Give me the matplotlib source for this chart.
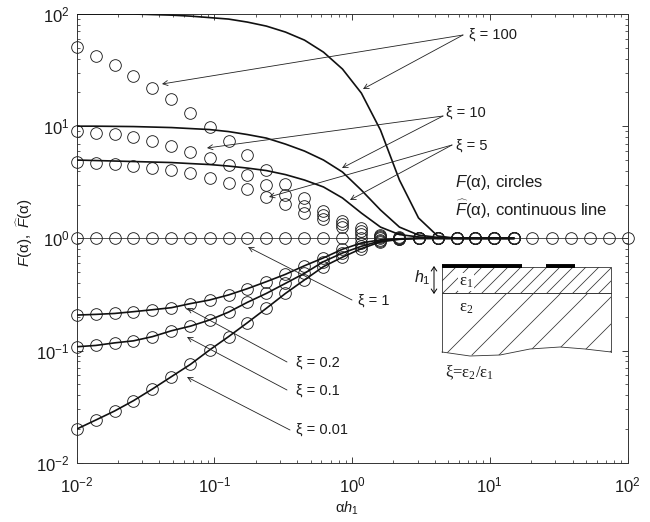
"""Scattering functions F and F-hat against alpha*h1 for several permittivity ratios."""

import matplotlib

matplotlib.use("Agg")

import matplotlib.pyplot as plt
from matplotlib.patches import Polygon

plt.rcParams["font.family"] = ["Liberation Sans", "DejaVu Sans"]
plt.rcParams["mathtext.fontset"] = "custom"
plt.rcParams["mathtext.rm"] = "Liberation Sans"
plt.rcParams["mathtext.it"] = "Liberation Sans:italic"
plt.rcParams["mathtext.bf"] = "Liberation Sans:bold"

INK = "#1c1c1c"

alpha_h = [
    0.01, 0.0138, 0.0189, 0.0259, 0.0356, 0.0489, 0.0672, 0.0924, 0.127, 0.174,
    0.239, 0.329, 0.452, 0.621, 0.853, 1.17, 1.61, 2.21, 3.04, 4.18,
    5.74, 7.88, 10.8, 14.9, 20.4, 28.1, 38.6, 53.0, 72.8, 100.0,
]

# circles, F(alpha); all but xi = 1 stop at alpha*h1 = 14.9
circ_100 = [51, 41.9, 34.8, 27.9, 22, 17.3, 13.2, 9.8, 7.4, 5.55, 4.07, 3.03,
            2.27, 1.77, 1.44, 1.23, 1.07, 1.02, 1, 1, 1, 1, 1, 1]
circ_10 = [9.02, 8.72, 8.54, 8.09, 7.45, 6.72, 5.94, 5.21, 4.48, 3.7, 2.99, 2.43,
           1.94, 1.61, 1.33, 1.16, 1.04, 1.01, 1, 1, 1, 1, 1, 1]
circ_5 = [4.84, 4.71, 4.61, 4.45, 4.25, 4.1, 3.8, 3.48, 3.14, 2.74, 2.35, 2.02,
          1.69, 1.48, 1.25, 1.09, 1.03, 1.01, 1, 1, 1, 1, 1, 1]
circ_1 = [1] * 30
circ_02 = [0.207, 0.21, 0.214, 0.222, 0.231, 0.241, 0.262, 0.282, 0.313, 0.356, 0.411, 0.478,
           0.57, 0.67, 0.8, 0.91, 0.97, 0.99, 1, 1, 1, 1, 1, 1]
circ_01 = [0.108, 0.111, 0.117, 0.122, 0.133, 0.15, 0.165, 0.187, 0.22, 0.269, 0.323, 0.397,
           0.488, 0.62, 0.74, 0.85, 0.95, 0.99, 1, 1, 1, 1, 1, 1]
circ_001 = [0.0199, 0.024, 0.0289, 0.0357, 0.0454, 0.0585, 0.0753, 0.101, 0.133, 0.177, 0.238, 0.323,
            0.426, 0.56, 0.68, 0.81, 0.93, 0.98, 1, 1, 1, 1, 1, 1]

# continuous lines, F-hat(alpha)
line_100 = [100, 100, 100, 100, 98.8, 97.7, 95.7, 92.9, 90.1, 84.7, 78, 69,
            58.5, 45.7, 32.3, 19.7, 9.23, 3.31, 1.52, 1.05, 1, 1, 1, 1]
line_10 = [10, 10, 9.96, 9.92, 9.82, 9.72, 9.52, 9.33, 8.95, 8.42, 7.83, 6.92,
           6.0, 4.99, 3.9, 2.69, 1.79, 1.26, 1.07, 1.02, 1, 1, 1, 1]
line_5 = [4.99, 4.94, 4.89, 4.84, 4.79, 4.74, 4.64, 4.55, 4.41, 4.23, 4.02, 3.7,
          3.31, 2.87, 2.29, 1.68, 1.26, 1.08, 1.03, 1, 1, 1, 1, 1]

tick_vals = [0.01, 0.1, 1, 10, 100]
tick_text = [r"$\mathregular{10^{-2}}$", r"$\mathregular{10^{-1}}$", r"$\mathregular{10^{0}}$",
             r"$\mathregular{10^{1}}$", r"$\mathregular{10^{2}}$"]

fig = plt.figure(figsize=(6.5, 5.22), dpi=100)
ax = fig.add_axes([76.5 / 650, 59.3 / 522, 551 / 650, 448.7 / 522])

for vals in (circ_100, circ_10, circ_5, circ_02, circ_01, circ_001, circ_1):
    ax.plot(alpha_h[: len(vals)], vals, ls="none", marker="o", ms=8.4, mfc="none",
            mec="#222222", mew=0.65, clip_on=False, zorder=3)
ax.plot(alpha_h, circ_1, color="#333333", lw=0.6, zorder=2)
for vals in (line_100, line_10, line_5, circ_02, circ_01, circ_001):
    ax.plot(alpha_h[: len(vals)], vals, color="#111111", lw=1.2, zorder=4)

ax.set_xscale("log")
ax.set_yscale("log")
ax.set_xlim(0.01, 100)
ax.set_ylim(0.01, 100)
ax.set_xticks(tick_vals)
ax.set_xticklabels(tick_text)
ax.set_yticks(tick_vals)
ax.set_yticklabels(tick_text)
ax.tick_params(which="major", direction="in", length=4.5, width=0.6, top=True, right=True,
               labelsize=12, colors=INK)
ax.tick_params(axis="x", which="major", pad=9)
ax.tick_params(axis="y", which="major", pad=5)
ax.tick_params(which="minor", direction="in", length=2.5, width=0.5, top=True, right=True, colors=INK)
for spine in ax.spines.values():
    spine.set_linewidth(0.7)
    spine.set_color("#333333")

# overlay in image pixels for the callouts and the little sketch
ov = fig.add_axes([0, 0, 1, 1], facecolor="none")
ov.set_xlim(0, 650)
ov.set_ylim(522, 0)
ov.axis("off")

labels = [
    ("ξ = 100", 469, 35),
    ("ξ = 10", 446, 113),
    ("ξ = 5", 456, 146),
    ("ξ = 1", 358, 301),
    ("ξ = 0.2", 296, 363),
    ("ξ = 0.1", 296, 391),
    ("ξ = 0.01", 296, 430),
]
for txt, tx, ty in labels:
    ov.text(tx, ty, txt, fontsize=10.5, color=INK, va="center", ha="left", zorder=6)

arrows = [
    (463, 35, 162, 84), (463, 35, 363, 89),
    (443, 116, 207, 148), (443, 116, 342, 168),
    (452, 145, 269, 197), (452, 145, 350, 200),
    (352, 300, 248, 247),
    (287, 362, 187, 308),
    (287, 390, 187, 337),
    (290, 430, 187, 377),
]
for x0, y0, x1, y1 in arrows:
    ov.annotate("", xy=(x1, y1), xytext=(x0, y0), zorder=5,
                arrowprops=dict(arrowstyle="->,head_length=0.35,head_width=0.18", color="#222222",
                                lw=0.6, shrinkA=0, shrinkB=0))

ov.text(455, 182, r"$F(\mathregular{\alpha})$, circles", fontsize=12, color=INK, va="center")
ov.text(455, 209, r"$\widehat{F}(\mathregular{\alpha})$, continuous line", fontsize=12, color=INK,
        va="center")

# layered-medium sketch
top_clip = Polygon([(442, 267), (611, 267), (611, 293), (442, 293)], closed=True, transform=ov.transData)
bot_clip = Polygon([(442, 293), (611, 293), (611, 352), (585, 349), (560, 347), (530, 349),
                    (500, 355), (470, 356), (442, 352)], closed=True, transform=ov.transData)
for k in range(17):
    x0 = 430 + 13 * k
    ln, = ov.plot([x0, x0 + 26], [293, 267], color="#333333", lw=0.55)
    ln.set_clip_path(top_clip)
for k in range(10):
    x0 = 445 + 27 * k
    ln, = ov.plot([x0, x0 + 62], [355, 293], color="#333333", lw=0.55)
    ln.set_clip_path(bot_clip)
ov.plot([442, 442, 611, 611], [352, 267, 267, 352], color="#333333", lw=0.6)
ov.plot([442, 611], [293, 293], color="#333333", lw=0.7)
ov.plot([442, 470, 500, 530, 560, 585, 611], [352, 356, 355, 349, 347, 349, 352], color="#333333", lw=0.6)
ov.plot([442, 522], [265.5, 265.5], color="black", lw=2.8, solid_capstyle="butt")
ov.plot([546, 575], [265.5, 265.5], color="black", lw=2.8, solid_capstyle="butt")
ov.annotate("", xy=(434, 266), xytext=(434, 294),
            arrowprops=dict(arrowstyle="<->,head_length=0.3,head_width=0.2", color="black", lw=0.7,
                            shrinkA=0, shrinkB=0))
ov.text(414, 278, r"$h_{\mathregular{1}}$", fontsize=11.5, color=INK, ha="left", va="center")
ov.text(459, 282, "ε$_{\\mathregular{1}}$", fontsize=12, family="Liberation Serif", color=INK, va="center",
        bbox=dict(fc="white", ec="none", pad=0.5))
ov.text(459, 308, "ε$_{\\mathregular{2}}$", fontsize=12, family="Liberation Serif", color=INK, va="center",
        bbox=dict(fc="white", ec="none", pad=0.5))
ov.text(445, 373, "ξ=ε$_{\\mathregular{2}}$/ε$_{\\mathregular{1}}$", fontsize=12, family="Liberation Serif",
        color=INK, va="center")

ov.text(347, 508, r"$\mathregular{\alpha}h_{\mathregular{1}}$", fontsize=10.5, color=INK, ha="center", va="center")
ov.text(25, 233, r"$F(\mathregular{\alpha}),\ \widehat{F}(\mathregular{\alpha})$", fontsize=11, color=INK,
        rotation=90, ha="center", va="center")

fig.savefig("out.png", dpi=100)
